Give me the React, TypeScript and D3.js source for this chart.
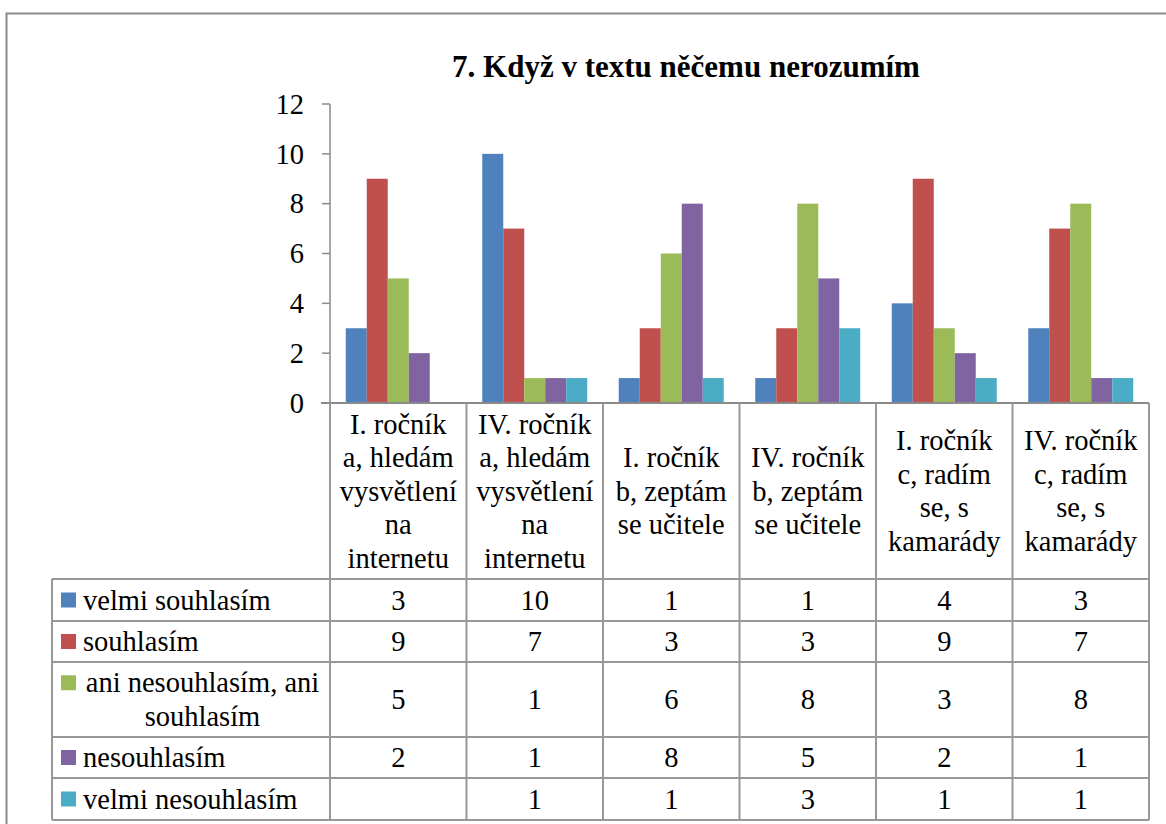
import React from "react";
import * as d3 from "d3";

const title = "7. Když v textu něčemu nerozumím";
const categories = [
  "I. ročník a, hledám vysvětlení na internetu",
  "IV. ročník a, hledám vysvětlení na internetu",
  "I. ročník b, zeptám se učitele",
  "IV. ročník b, zeptám se učitele",
  "I. ročník c, radím se, s kamarády",
  "IV. ročník c, radím se, s kamarády",
];
const categoryLines = [
  ["I. ročník", "a, hledám", "vysvětlení", "na", "internetu"],
  ["IV. ročník", "a, hledám", "vysvětlení", "na", "internetu"],
  ["I. ročník", "b, zeptám", "se učitele"],
  ["IV. ročník", "b, zeptám", "se učitele"],
  ["I. ročník", "c, radím", "se, s", "kamarády"],
  ["IV. ročník", "c, radím", "se, s", "kamarády"],
];
const seriesNames = [
  "velmi souhlasím",
  "souhlasím",
  "ani nesouhlasím, ani souhlasím",
  "nesouhlasím",
  "velmi nesouhlasím",
];
const seriesLabelLines = [
  ["velmi souhlasím"],
  ["souhlasím"],
  ["ani nesouhlasím, ani", "souhlasím"],
  ["nesouhlasím"],
  ["velmi nesouhlasím"],
];
const velmiSouhlasim = [3, 10, 1, 1, 4, 3];
const souhlasim = [9, 7, 3, 3, 9, 7];
const aniAni = [5, 1, 6, 8, 3, 8];
const nesouhlasim = [2, 1, 8, 5, 2, 1];
const velmiNesouhlasim: (number | null)[] = [null, 1, 1, 3, 1, 1];
const seriesValues = [velmiSouhlasim, souhlasim, aniAni, nesouhlasim, velmiNesouhlasim];
const colors = ["#4F81BD", "#C0504D", "#9BBB59", "#8064A2", "#4BACC6"];
const yTicks = [0, 2, 4, 6, 8, 10, 12];

const FS = 28.5;
const BASE = FS * 0.34;
const GRID = "#989898";

export default function App() {
  const W = 1166, H = 824;
  const plotLeft = 330, plotRight = 1149, plotTop = 104, plotBottom = 403;
  const headerBottom = 579;
  const rowEdges = [579, 621, 662, 737, 778, 820];
  const tableLeft = 52;

  const x = d3.scaleBand<string>().domain(categories).range([plotLeft, plotRight]).padding(0);
  const xs = d3
    .scaleBand<string>()
    .domain(seriesNames)
    .range([0, x.bandwidth()])
    .paddingInner(0)
    .paddingOuter(0.75);
  const y = d3.scaleLinear().domain([0, 12]).range([plotBottom, plotTop]);

  const lineH = 33.5;
  const tp = { fontSize: FS, style: { fontFamily: "Liberation Serif" } };

  return (
    <svg width={W} height={H} style={{ position: "absolute", left: 0, top: 0 }}>
      <rect x={0} y={0} width={W} height={H} fill="#fff" />
      <path d={`M6.5,${H + 5} L6.5,13.5 L${W + 5},13.5`} fill="none" stroke="#8a8a8a" strokeWidth={2} />

      <text x={686} y={77} fontSize={31} fontWeight="bold" textAnchor="middle" style={{ fontFamily: "Liberation Serif" }}>
        {title}
      </text>

      {seriesNames.map((s, si) =>
        categories.map((c, ci) => {
          const v = seriesValues[si][ci];
          if (v == null) return null;
          const bx = (x(c) as number) + (xs(s) as number);
          return (
            <rect
              key={s + c}
              x={bx}
              y={y(v)}
              width={xs.bandwidth()}
              height={plotBottom - y(v)}
              fill={colors[si]}
            />
          );
        })
      )}

      <line x1={plotLeft} x2={plotLeft} y1={plotTop} y2={plotBottom} stroke="#8a8a8a" strokeWidth={1.5} />
      {yTicks.map((t) => (
        <g key={t}>
          <line x1={322} x2={plotLeft} y1={y(t)} y2={y(t)} stroke="#8a8a8a" strokeWidth={1.5} />
          <text x={304} y={y(t) + BASE} textAnchor="end" {...tp}>
            {String(t)}
          </text>
        </g>
      ))}
      <line x1={321} x2={plotRight} y1={plotBottom} y2={plotBottom} stroke="#8a8a8a" strokeWidth={2} />

      {categories.map((c, ci) => {
        const cx = (x(c) as number) + x.bandwidth() / 2;
        const lines = categoryLines[ci];
        const mid = (plotBottom + headerBottom) / 2;
        const start = mid - ((lines.length - 1) * lineH) / 2;
        return (
          <g key={c}>
            {lines.map((l, li) => (
              <text key={li} x={cx} y={start + li * lineH + BASE} textAnchor="middle" {...tp}>
                {l}
              </text>
            ))}
          </g>
        );
      })}
      {categories.map((c) => (
        <line
          key={"v" + c}
          x1={x(c) as number}
          x2={x(c) as number}
          y1={plotBottom}
          y2={rowEdges[rowEdges.length - 1]}
          stroke={GRID}
          strokeWidth={2}
        />
      ))}
      <line x1={plotRight} x2={plotRight} y1={plotBottom} y2={rowEdges[rowEdges.length - 1]} stroke={GRID} strokeWidth={2} />
      <line x1={tableLeft} x2={tableLeft} y1={headerBottom} y2={rowEdges[rowEdges.length - 1]} stroke={GRID} strokeWidth={2} />
      {rowEdges.map((ry, i) => (
        <line key={"h" + i} x1={tableLeft} x2={plotRight} y1={ry} y2={ry} stroke={GRID} strokeWidth={2} />
      ))}

      {seriesNames.map((s, si) => {
        const top = rowEdges[si];
        const bottom = rowEdges[si + 1];
        const mid = (top + bottom) / 2;
        const lines = seriesLabelLines[si];
        const start = mid - ((lines.length - 1) * lineH) / 2;
        return (
          <g key={"row" + s}>
            <rect x={61} y={start - 7.5} width={15} height={15} fill={colors[si]} />
            {lines.length === 1 ? (
              <text x={83} y={mid + BASE} {...tp}>
                {lines[0]}
              </text>
            ) : (
              lines.map((l, li) => (
                <text key={li} x={202.5} y={start + li * lineH + BASE} textAnchor="middle" {...tp}>
                  {l}
                </text>
              ))
            )}
            {categories.map((c, ci) => {
              const v = seriesValues[si][ci];
              if (v == null) return null;
              return (
                <text key={c} x={(x(c) as number) + x.bandwidth() / 2} y={mid + BASE} textAnchor="middle" {...tp}>
                  {String(v)}
                </text>
              );
            })}
          </g>
        );
      })}
    </svg>
  );
}
